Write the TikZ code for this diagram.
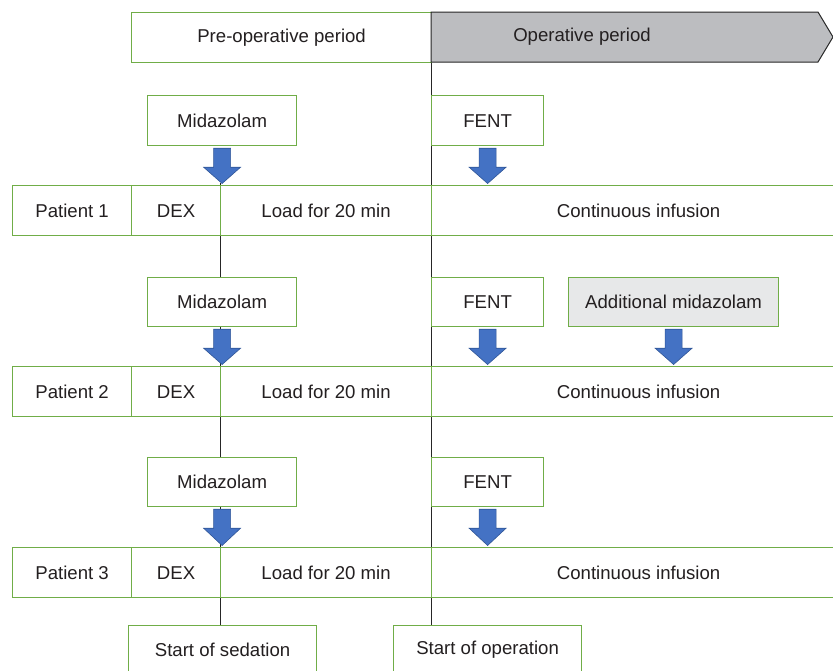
\documentclass[tikz,border=0pt]{standalone}
\usepackage{fontspec}
\setmainfont{Liberation Sans}
\usetikzlibrary{calc}
\definecolor{boxgreen}{RGB}{112,173,71}
\definecolor{arrowblue}{RGB}{68,114,196}
\definecolor{arrowedge}{RGB}{47,85,151}
\definecolor{hdrgray}{RGB}{188,189,192}
\definecolor{addgray}{RGB}{231,232,233}
\definecolor{txt}{RGB}{35,31,32}
\tikzset{
  cell/.style={draw=boxgreen, fill=white, line width=1.2pt, minimum height=50pt, inner sep=0pt,
    anchor=north west, text=txt, font=\fontsize{18.6}{22}\selectfont},
  vline/.style={draw=black!85, line width=1pt},
  barrow/.style={fill=arrowblue, draw=arrowedge, line width=0.6pt, line join=miter},
}
\newcommand{\blockarr}[2]{%
  \draw[barrow] ($(#1.south)+(-8.5,2)$) -- ($(#1.south)+(8.5,2)$) -- ($(#1.south)+(8.5,21)$)
    -- ($(#1.south)+(18.5,21)$) -- ($(#1.south |- #2.north)+(0,-1.5)$)
    -- ($(#1.south)+(-18.5,21)$) -- ($(#1.south)+(-8.5,21)$) -- cycle;}
\begin{document}
\begin{tikzpicture}[x=1pt,y=-1pt]
\useasboundingbox (0,0) rectangle (833,670);
% vertical guide lines
\draw[vline] (431,62) -- (431,626);
\draw[vline] (220,183) -- (220,626);
% header
\node[cell, minimum width=300pt] (pre) at (131,12) {Pre-operative period};
\draw[draw=black!85, fill=hdrgray, line width=1pt] (431,12) -- (818,12) -- (833,37) -- (818,62) -- (431,62) -- cycle;
\node[text=txt, font=\fontsize{18.6}{22}\selectfont] (op) at (582,37) {Operative period};
% rows
\foreach \i/\y in {1/185, 2/366, 3/547}{
  \node[cell, minimum width=119pt] (p\i) at (12,\y) {Patient \i};
  \node[cell, minimum width=89pt] (d\i) at (131,\y) {DEX};
  \node[cell, minimum width=211pt] (l\i) at (220,\y) {Load for 20 min};
  \node[cell, minimum width=414pt] (c\i) at (431,\y) {Continuous infusion};
}
% drug boxes
\node[cell, minimum width=149pt] (m1) at (147,95) {Midazolam};
\node[cell, minimum width=149pt, minimum height=49pt] (m2) at (147,277) {Midazolam};
\node[cell, minimum width=149pt, minimum height=49pt] (m3) at (147,457) {Midazolam};
\node[cell, minimum width=112pt] (f1) at (431,95) {FENT};
\node[cell, minimum width=112pt, minimum height=49pt] (f2) at (431,277) {FENT};
\node[cell, minimum width=112pt, minimum height=49pt] (f3) at (431,457) {FENT};
\node[cell, minimum width=210pt, minimum height=49pt, fill=addgray] (am) at (568,277) {Additional midazolam};
% arrows
\blockarr{m1}{l1}
\blockarr{m2}{l2}
\blockarr{m3}{l3}
\blockarr{f1}{c1}
\blockarr{f2}{c2}
\blockarr{f3}{c3}
\blockarr{am}{c2}
% bottom boxes
\node[cell, minimum width=188pt, minimum height=48pt] (sed) at (128,625) {Start of sedation};
\node[cell, minimum width=188pt, minimum height=48pt] (sop) at (393,625) {Start of operation};
\end{tikzpicture}
\end{document}
